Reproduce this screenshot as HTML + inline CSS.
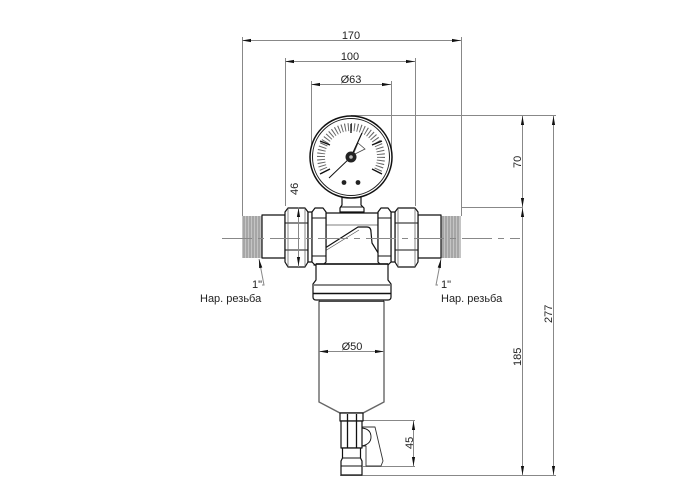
<!DOCTYPE html>
<html>
<head>
<meta charset="utf-8">
<style>
html,body{margin:0;padding:0;background:#fff}
svg{display:block}
text{font-family:"Liberation Sans",sans-serif;font-size:11px;fill:#222}
.d{stroke:#888;stroke-width:1;fill:none}
.k{stroke:#111;stroke-width:1.2;fill:#fff;stroke-linejoin:round}
.t{stroke:#111;stroke-width:.9;fill:none}
.h{stroke:#555;stroke-width:.7;fill:none}
</style>
</head>
<body>
<svg width="700" height="500" viewBox="0 0 700 500" xmlns="http://www.w3.org/2000/svg">
<defs>
<path id="al" d="M0 0L9 -1.6V1.6Z" fill="#111"/>
</defs>

<!-- dimension lines -->
<g class="d">
<path d="M242 40.500H461M285 61.500H415M311 84.500H391"/>
<path d="M242.500 37V216M461.500 37V216M285.500 58V206M415.500 58V206M311.500 81V150M391.500 81V157"/>
<path d="M351 115.500H556M461 207.500H523M363 420.500H415M363 466.500H415M340 475.500H556"/>
<path d="M522.500 116V475M553.500 116V475M413.500 420V466"/>
<path d="M259 259L264 285H262M441 259L436 285H438"/>
</g>

<!-- threads -->
<rect x="242" y="216" width="20" height="42" fill="#c4c4c4"/>
<rect x="441" y="216" width="20" height="42" fill="#c4c4c4"/>
<g stroke="#888" stroke-width="1">
<path d="M244 216V258M247 216V258M250 216V258M253 216V258M256 216V258M259 216V258"/>
<path d="M443 216V258M446 216V258M449 216V258M452 216V258M455 216V258M458 216V258"/>
</g>

<!-- pipe ends -->
<rect class="k" x="262" y="215" width="23" height="43"/>
<rect class="k" x="418" y="215" width="23" height="43"/>

<!-- central body -->
<rect class="k" x="326" y="213" width="52" height="48"/>
<path class="h" d="M326 225H378"/>
<path class="k" d="M314 265L322 250L358 227H367Q371 227 371 232L372 243L380 256L388 265Z"/>
<path class="h" d="M317 263L325 251L359 230"/>

<!-- nuts -->
<g class="k">
<path d="M285 212L288 208H305L308 212V262L305 267H288L285 262Z"/>
<rect x="308" y="212" width="4" height="50"/>
<path d="M312 212L315 208H323L326 212V262L323 265H315L312 262Z"/>
<path d="M395 212L398 208H415L418 212V262L415 267H398L395 262Z"/>
<rect x="391" y="212" width="4" height="50"/>
<path d="M378 212L381 208H388L391 212V262L388 265H381L378 262Z"/>
</g>
<path class="t" d="M285 223H308M285 250H308M312 218H326M312 256H326M395 223H418M395 250H418M378 218H391M378 256H391"/>
<path class="h" d="M288 208V267M305 208V267M398 208V267M415 208V267"/>

<!-- lower body and collar -->
<path class="k" d="M316 264H388V280L391 284V297Q391 300 388 300H316Q313 300 313 297V284L316 280Z"/>
<path class="t" d="M314 285H390"/>
<path d="M313 293.500H391M316 264H388" stroke="#111" stroke-width="1.400"/>

<!-- bowl -->
<path d="M319 300V402L340 413H363L384 402V300" fill="#fff" stroke="#666" stroke-width="1.400"/>
<path d="M319 301H384" stroke="#111" stroke-width="1.500"/>
<path class="d" d="M319 351.500H384"/>

<!-- drain -->
<path d="M362 427H375L383 461L381 466H366V446H362Z" fill="#fff" stroke="#333" stroke-width=".9" stroke-linejoin="round"/>
<path class="t" d="M362 428Q371 429 371 437Q371 444 362 446"/>
<rect class="k" x="340" y="413" width="23" height="8"/>
<rect class="k" x="341" y="421" width="21" height="27"/>
<path d="M347.500 414V448M356.500 414V448" stroke="#111" stroke-width="1.300"/>
<path class="k" d="M342.500 448H360.500V458L362 461V475H341V461L342.500 458Z"/>
<path class="t" d="M342 458H361M341 466H362"/>

<!-- gauge stem -->
<path class="k" d="M342 197H361V205L364 208V212H340V208L342 205Z"/>
<path class="t" d="M340 207H363"/>

<!-- gauge -->
<circle cx="351" cy="157" r="41" fill="#fff" stroke="#111" stroke-width="1.500"/>
<circle cx="351" cy="157" r="38.500" fill="#fff" stroke="#222" stroke-width="1"/>
<path d="M325 172A30 30 0 1 1 377 172" fill="none" stroke="#666" stroke-width="8" pathLength="40" stroke-dasharray=".32 .68"/>
<path stroke="#111" stroke-width="1.300" d="M351 124V133M320 141L330 145M382 141L372 145M320 174L330 169M382 174L372 169"/>
<path stroke="#111" stroke-width="1" fill="none" d="M329 178L351 157L362 133"/>
<path stroke="#444" stroke-width=".8" fill="#fff" d="M358 143L365 149L353 155Z"/>
<path stroke="#111" stroke-width="1" fill="none" d="M351 157L362 133"/>
<circle cx="351" cy="157" r="5.500" fill="#222"/>
<circle cx="351" cy="157" r="1.800" fill="#bbb"/>
<circle cx="344" cy="182.500" r="2.400" fill="#222"/>
<circle cx="358" cy="182.500" r="2.400" fill="#222"/>

<!-- overlay dimension and center lines -->
<path d="M222 238.500H520" stroke="#888" stroke-width="1" stroke-dasharray="30 6 6 6" fill="none"/>
<path class="d" d="M298.500 207V267"/>
<g>
<use href="#al" transform="translate(242,40.500)"/><use href="#al" transform="translate(461,40.500) rotate(180)"/>
<use href="#al" transform="translate(285,61.500)"/><use href="#al" transform="translate(415,61.500) rotate(180)"/>
<use href="#al" transform="translate(311,84.500)"/><use href="#al" transform="translate(391,84.500) rotate(180)"/>
<use href="#al" transform="translate(522.500,116) rotate(90)"/><use href="#al" transform="translate(522.500,207) rotate(-90)"/>
<use href="#al" transform="translate(522.500,208) rotate(90)"/><use href="#al" transform="translate(522.500,475) rotate(-90)"/>
<use href="#al" transform="translate(553.500,116) rotate(90)"/><use href="#al" transform="translate(553.500,475) rotate(-90)"/>
<use href="#al" transform="translate(413.500,421) rotate(90)"/><use href="#al" transform="translate(413.500,466) rotate(-90)"/>
<use href="#al" transform="translate(319,351.500)"/><use href="#al" transform="translate(384,351.500) rotate(180)"/>
<use href="#al" transform="translate(298.500,208) rotate(90)"/><use href="#al" transform="translate(298.500,266) rotate(-90)"/>
<use href="#al" transform="translate(259,259) rotate(79)"/><use href="#al" transform="translate(441,259) rotate(101)"/>
</g>

<!-- labels -->
<text x="351" y="39" text-anchor="middle">170</text>
<text x="350" y="60" text-anchor="middle">100</text>
<text x="351" y="83" text-anchor="middle">Ø63</text>
<text x="352" y="350" text-anchor="middle">Ø50</text>
<text x="252" y="288">1"</text>
<text x="441" y="288">1"</text>
<text x="200" y="302">Нар. резьба</text>
<text x="441" y="302">Нар. резьба</text>
<text transform="translate(298,195) rotate(-90)">46</text>
<text transform="translate(521,168) rotate(-90)">70</text>
<text transform="translate(521,366) rotate(-90)">185</text>
<text transform="translate(552,323) rotate(-90)">277</text>
<text transform="translate(413,449) rotate(-90)">45</text>
</svg>
</body>
</html>
